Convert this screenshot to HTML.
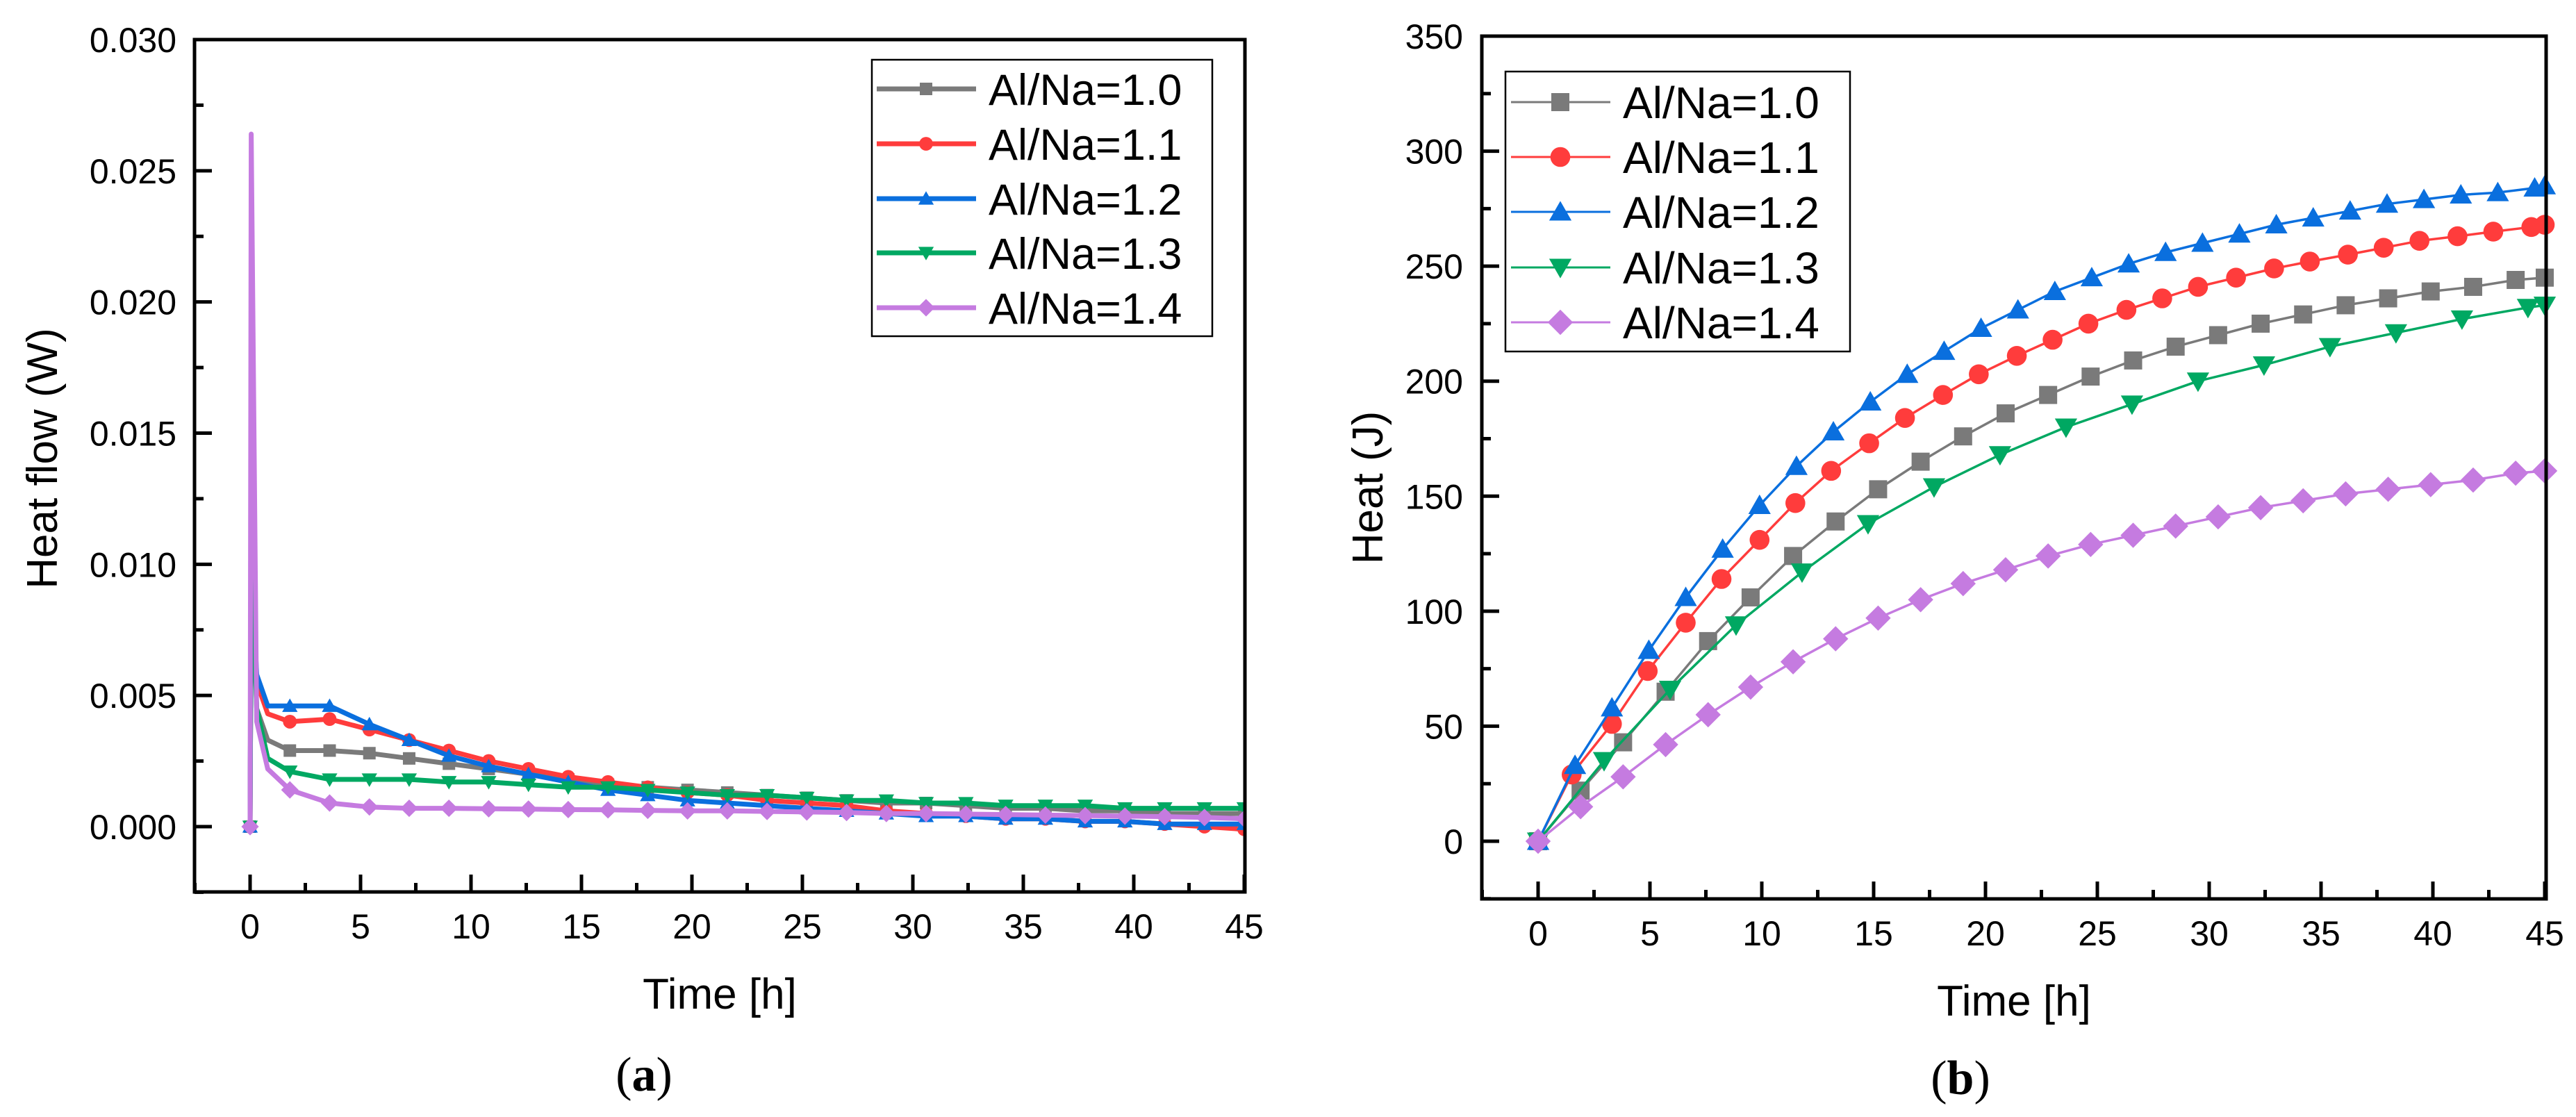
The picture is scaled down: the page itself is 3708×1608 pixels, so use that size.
<!DOCTYPE html>
<html><head><meta charset="utf-8">
<style>
html,body{margin:0;padding:0;background:#fff;}
svg{display:block;font-family:"Liberation Sans",Arial,sans-serif;}
</style></head>
<body>
<svg id="fig" width="3708" height="1608" viewBox="0 0 3708 1608" xmlns="http://www.w3.org/2000/svg">
<rect width="3708" height="1608" fill="#fff"/>
<g id="chartA"></g>
<g id="chartB"></g>
<text x="927" y="1570" text-anchor="middle" font-family="Liberation Serif, serif" font-size="70">(<tspan font-weight="bold">a</tspan>)</text>
<text x="2822" y="1575" text-anchor="middle" font-family="Liberation Serif, serif" font-size="70">(<tspan font-weight="bold">b</tspan>)</text>
</svg>
<script>
const seriesNames = ["Al/Na=1.0","Al/Na=1.1","Al/Na=1.2","Al/Na=1.3","Al/Na=1.4"];
const seriesColors = ["#7a7a7a","#ff3c3c","#0a6fde","#00a862","#c57be0"];
const markerShapes = ["square","circle","triangle","down","diamond"];

// Chart (a): heat flow
const timeA = [0,0.05,0.3,0.8,1.8,3.6,5.4,7.2,9.0,10.8,12.6,14.4,16.2,18.0,19.8,21.6,23.4,25.2,27.0,28.8,30.6,32.4,34.2,36.0,37.8,39.6,41.4,43.2,45];
const flow10 = [0,0.010,0.0045,0.0033,0.0029,0.0029,0.0028,0.0026,0.0024,0.0022,0.0020,0.0018,0.0016,0.0015,0.0014,0.0013,0.0012,0.0011,0.0010,0.0009,0.0009,0.0008,0.0007,0.0007,0.0006,0.0006,0.0005,0.0005,0.0005];
const flow11 = [0,0.010,0.0055,0.0043,0.0040,0.0041,0.0037,0.0033,0.0029,0.0025,0.0022,0.0019,0.0017,0.0015,0.0013,0.0012,0.0010,0.0009,0.0008,0.0006,0.0005,0.0004,0.0003,0.0003,0.0002,0.0002,0.0001,0.0000,-0.0001];
const flow12 = [0,0.010,0.0058,0.0046,0.0046,0.0046,0.0039,0.0033,0.0027,0.0023,0.0020,0.0017,0.0014,0.0012,0.0010,0.0009,0.0008,0.0007,0.0006,0.0005,0.0004,0.0004,0.0003,0.0003,0.0002,0.0002,0.0001,0.0001,0.0001];
const flow13 = [0,0.011,0.0045,0.0026,0.0021,0.0018,0.0018,0.0018,0.0017,0.0017,0.0016,0.0015,0.0015,0.0014,0.0013,0.0012,0.0012,0.0011,0.0010,0.0010,0.0009,0.0009,0.0008,0.0008,0.0008,0.0007,0.0007,0.0007,0.0007];
const flow14 = [0,0.0264,0.0040,0.0022,0.0014,0.0009,0.00075,0.0007,0.0007,0.00068,0.00067,0.00065,0.00064,0.00062,0.0006,0.0006,0.00058,0.00056,0.00054,0.0005,0.0005,0.00048,0.00046,0.00044,0.00042,0.0004,0.00038,0.00035,0.0003];
const xTicksA = [0,5,10,15,20,25,30,35,40,45];
const yTicksA = ["0.000","0.005","0.010","0.015","0.020","0.025","0.030"];

// Chart (b): heat
const time10 = [0,1.9,3.8,5.7,7.6,9.5,11.4,13.3,15.2,17.1,19.0,20.9,22.8,24.7,26.6,28.5,30.4,32.3,34.2,36.1,38.0,39.9,41.8,43.7,45];
const heat10 = [0,22,43,65,87,106,124,139,153,165,176,186,194,202,209,215,220,225,229,233,236,239,241,244,245];
const time11 = [0,1.5,3.3,4.9,6.6,8.2,9.9,11.5,13.1,14.8,16.4,18.1,19.7,21.4,23.0,24.6,26.3,27.9,29.5,31.2,32.9,34.5,36.2,37.8,39.4,41.1,42.7,44.4,45];
const heat11 = [0,29,51,74,95,114,131,147,161,173,184,194,203,211,218,225,231,236,241,245,249,252,255,258,261,263,265,267,268];
const time12 = [0,1.65,3.3,4.95,6.6,8.25,9.9,11.55,13.2,14.85,16.5,18.15,19.8,21.45,23.1,24.75,26.4,28.05,29.7,31.35,33.0,34.65,36.3,37.95,39.6,41.25,42.9,44.55,45];
const heat12 = [0,33,58,83,106,127,146,163,178,191,203,213,223,231,239,245,251,256,260,264,268,271,274,277,279,281,282,284,285];
const time13 = [0,2.95,5.9,8.85,11.8,14.75,17.7,20.65,23.6,26.55,29.5,32.45,35.4,38.35,41.3,44.25,45];
const heat13 = [0,35,66,94,117,138,154,168,180,190,200,207,215,221,227,232,233];
const time14 = [0,1.9,3.8,5.7,7.6,9.5,11.4,13.3,15.2,17.1,19.0,20.9,22.8,24.7,26.6,28.5,30.4,32.3,34.2,36.1,38.0,39.9,41.8,43.7,45];
const heat14 = [0,15,28,42,55,67,78,88,97,105,112,118,124,129,133,137,141,145,148,151,153,155,157,160,161];
const xTicksB = [0,5,10,15,20,25,30,35,40,45];
const yTicksB = [0,50,100,150,200,250,300,350];

const NS = "http://www.w3.org/2000/svg";
function mk(tag, attrs, parent){
  const e = document.createElementNS(NS, tag);
  for (const k in attrs) e.setAttribute(k, attrs[k]);
  if (parent) parent.appendChild(e);
  return e;
}
function marker(parent, shape, cx, cy, s, color){
  let e;
  if (shape==="square") e = mk("rect",{x:cx-s/2,y:cy-s/2,width:s,height:s,fill:color},parent);
  else if (shape==="circle") e = mk("circle",{cx:cx,cy:cy,r:s*0.55,fill:color},parent);
  else if (shape==="triangle") e = mk("polygon",{points:`${cx},${cy-s*0.6} ${cx+s*0.62},${cy+s*0.48} ${cx-s*0.62},${cy+s*0.48}`,fill:color},parent);
  else if (shape==="down") e = mk("polygon",{points:`${cx},${cy+s*0.6} ${cx+s*0.62},${cy-s*0.48} ${cx-s*0.62},${cy-s*0.48}`,fill:color},parent);
  else e = mk("polygon",{points:`${cx},${cy-s*0.7} ${cx+s*0.7},${cy} ${cx},${cy+s*0.7} ${cx-s*0.7},${cy}`,fill:color},parent);
  
  
  return e;
}

function drawAxes(g, cfg){
  const {L,R,T,B,xs,ys,xMinor,yMinor,xTicks,yTickVals,yTickLabels,xTitle,yTitle,xTitleX,xTitleY,yTitleX,yTitleY,tickY,labelRight} = cfg;
  xTicks.forEach(v=>{
    const t = mk("line",{x1:xs(v),x2:xs(v),y1:B,y2:B-25,stroke:"#000","stroke-width":5},g);
    
    
    const lb = mk("text",{x:xs(v),y:tickY,"text-anchor":"middle","font-size":50},g);
    lb.textContent = v;
    
    
  });
  xMinor.forEach(v=>{
    const t = mk("line",{x1:xs(v),x2:xs(v),y1:B,y2:B-13,stroke:"#000","stroke-width":5},g);
    
    
  });
  yTickVals.forEach((v,i)=>{
    const t = mk("line",{x1:L,x2:L+25,y1:ys(v),y2:ys(v),stroke:"#000","stroke-width":5},g);
    
    
    const lb = mk("text",{x:labelRight,y:ys(v)+18,"text-anchor":"end","font-size":50},g);
    lb.textContent = yTickLabels[i];
    
    
  });
  yMinor.forEach(v=>{
    const t = mk("line",{x1:L,x2:L+13,y1:ys(v),y2:ys(v),stroke:"#000","stroke-width":5},g);
    
    
  });
  const fr = mk("rect",{x:L,y:T,width:R-L,height:B-T,fill:"none",stroke:"#000","stroke-width":5},g);
  
  
  const xt = mk("text",{x:xTitleX,y:xTitleY,"text-anchor":"middle","font-size":62},g);
  xt.textContent = xTitle;
  
  
  const yt = mk("text",{x:yTitleX,y:yTitleY,"text-anchor":"middle","font-size":62,transform:`rotate(-90 ${yTitleX} ${yTitleY})`},g);
  yt.textContent = yTitle;
  
  
}

// ---------- Chart A ----------
(function(){
  const g = document.getElementById("chartA");
  const L=280,R=1792,T=57,B=1284;
  const xs = v => 360 + v*(1791-360)/45;
  const ys = v => 1190 - v*(1190-57)/0.030;
  const clip = mk("clipPath",{id:"clipA"},g);
  mk("rect",{x:L,y:T,width:R-L,height:B-T},clip);
  const data = [flow10,flow11,flow12,flow13,flow14];
  const plot = mk("g",{"clip-path":"url(#clipA)"},g);
  
  
  data.forEach((arr,si)=>{
    const pts = arr.map((v,i)=>`${xs(timeA[i]).toFixed(1)},${ys(v).toFixed(1)}`).join(" ");
    const sg = mk("g",{},plot);
    
    
    mk("polyline",{points:pts,fill:"none",stroke:seriesColors[si],"stroke-width":7,"stroke-linejoin":"round"},sg);
    arr.forEach((v,i)=>{ if(i===0||i>=4) marker(sg, markerShapes[si], xs(timeA[i]), ys(v), 18, seriesColors[si]); });
  });
  drawAxes(g,{L,R,T,B,xs,ys,
    xMinor:[-2.5,2.5,7.5,12.5,17.5,22.5,27.5,32.5,37.5,42.5],
    yMinor:[-0.0025,0.0025,0.0075,0.0125,0.0175,0.0225,0.0275],
    xTicks:xTicksA, yTickVals:yTicksA.map(Number), yTickLabels:yTicksA,
    xTitle:"Time [h]", yTitle:"Heat flow (W)", xTitleX:1036, xTitleY:1452, yTitleX:82, yTitleY:660, tickY:1351, labelRight:254});
  const lg = mk("g",{},g);
  
  
  mk("rect",{x:1255,y:86,width:490,height:398,fill:"#fff",stroke:"#000","stroke-width":2.5},lg);
  const ly = [128,207,286,364,443];
  seriesNames.forEach((n,i)=>{
    const e = mk("g",{},lg);
    
    
    mk("line",{x1:1262,x2:1405,y1:ly[i],y2:ly[i],stroke:seriesColors[i],"stroke-width":7},e);
    marker(e, markerShapes[i], 1333, ly[i], 18, seriesColors[i]);
    const t = mk("text",{x:1423,y:ly[i]+23,"font-size":63},e);
    t.textContent = n;
  });
})();

// ---------- Chart B ----------
(function(){
  const g = document.getElementById("chartB");
  const L=2133,R=3665,T=52,B=1294;
  const xs = v => 2214 + v*(3663-2214)/45;
  const ys = v => 1211 - v*(1211-52)/350;
  const times = [time10,time11,time12,time13,time14];
  const data = [heat10,heat11,heat12,heat13,heat14];
  const plot = mk("g",{},g);
  
  
  data.forEach((arr,si)=>{
    const pts = arr.map((v,i)=>`${xs(times[si][i]).toFixed(1)},${ys(v).toFixed(1)}`).join(" ");
    const sg = mk("g",{},plot);
    
    
    mk("polyline",{points:pts,fill:"none",stroke:seriesColors[si],"stroke-width":3.5,"stroke-linejoin":"round"},sg);
    arr.forEach((v,i)=>marker(sg, markerShapes[si], xs(times[si][i]), ys(v), 26, seriesColors[si]));
  });
  drawAxes(g,{L,R,T,B,xs,ys,
    xMinor:[-2.5,2.5,7.5,12.5,17.5,22.5,27.5,32.5,37.5,42.5],
    yMinor:[-25,25,75,125,175,225,275,325],
    xTicks:xTicksB, yTickVals:yTicksB, yTickLabels:yTicksB.map(String),
    xTitle:"Time [h]", yTitle:"Heat (J)", xTitleX:2899, xTitleY:1462, yTitleX:1990, yTitleY:702, tickY:1361, labelRight:2106});
  const lg = mk("g",{},g);
  
  
  mk("rect",{x:2167,y:103,width:496,height:403,fill:"#fff",stroke:"#000","stroke-width":2.5},lg);
  const ly = [147,226,305,385,464];
  seriesNames.forEach((n,i)=>{
    const e = mk("g",{},lg);
    
    
    mk("line",{x1:2175,x2:2318,y1:ly[i],y2:ly[i],stroke:seriesColors[i],"stroke-width":3},e);
    marker(e, markerShapes[i], 2246, ly[i], 26, seriesColors[i]);
    const t = mk("text",{x:2336,y:ly[i]+23,"font-size":64},e);
    t.textContent = n;
  });
})();
</script>
</body></html>
